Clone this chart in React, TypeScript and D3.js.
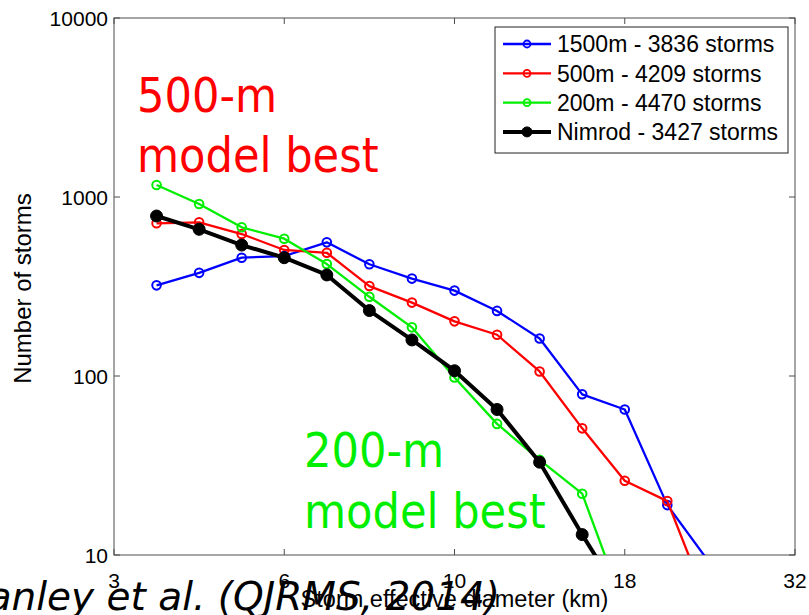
import React from "react";
import * as d3 from "d3";

// Diameter bins (index along the x axis) and storm counts per bin
const bins = [1, 2, 3, 4, 5, 6, 7, 8, 9, 10, 11, 12, 13, 14];
const counts1500 = [321, 377, 458, 468, 558, 421, 350, 300, 231, 162, 79, 65, 19, 9];
const counts500 = [713, 722, 621, 506, 488, 318, 257, 202, 170, 106, 51, 26, 20, 5];
const counts200 = [1167, 914, 677, 585, 422, 277, 187, 98, 54, 34, 22, 5];
const countsNimrod = [783, 660, 539, 458, 367, 232, 159, 107, 65, 33, 13, 5.4];

const xTickBins = [0, 4, 8, 12, 16];
const xTickLabels = ["3", "6", "10", "18", "32"];
const yTicks = [10, 100, 1000, 10000];

const seriesNames = [
  "1500m - 3836 storms",
  "500m - 4209 storms",
  "200m - 4470 storms",
  "Nimrod - 3427 storms",
];
const seriesColors = ["#0000ff", "#ff0000", "#00ee00", "#000000"];
const seriesCounts = [counts1500, counts500, counts200, countsNimrod];

const W = 809;
const H = 615;
const M = { left: 114, right: 795, top: 18, bottom: 555 };

export default function App() {
  const x = d3.scaleLinear().domain([0, 16]).range([M.left, M.right]);
  const y = d3.scaleLog().domain([10, 10000]).range([M.bottom, M.top]);

  const line = d3
    .line<[number, number]>()
    .x((d) => x(d[0]))
    .y((d) => y(d[1]));

  const axisFont = "'Liberation Sans', Arial, Helvetica, sans-serif";
  const annoFont = "'DejaVu Sans', Verdana, sans-serif";
  const tickLen = 6;

  return (
    <svg
      width={W}
      height={H}
      style={{ position: "absolute", left: 0, top: 0, background: "#fff" }}
    >
      <defs>
        <clipPath id="plotClip">
          <rect x={M.left} y={M.top} width={M.right - M.left} height={M.bottom - M.top} />
        </clipPath>
      </defs>

      {/* axes frame and ticks */}
      <rect
        x={M.left}
        y={M.top}
        width={M.right - M.left}
        height={M.bottom - M.top}
        fill="none"
        stroke="#4d4d4d"
        strokeWidth={1}
      />
      {xTickBins.map((b, i) => (
        <g key={"xt" + i}>
          <line x1={x(b)} x2={x(b)} y1={M.bottom} y2={M.bottom - tickLen} stroke="#4d4d4d" />
          <line x1={x(b)} x2={x(b)} y1={M.top} y2={M.top + tickLen} stroke="#4d4d4d" />
          <text
            x={x(b)}
            y={M.bottom + 33}
            textAnchor="middle"
            fontFamily={axisFont}
            fontSize={21}
            fill="#000"
          >
            {xTickLabels[i]}
          </text>
        </g>
      ))}
      {yTicks.map((t) => (
        <g key={"yt" + t}>
          <line x1={M.left} x2={M.left + tickLen} y1={y(t)} y2={y(t)} stroke="#4d4d4d" />
          <line x1={M.right} x2={M.right - tickLen} y1={y(t)} y2={y(t)} stroke="#4d4d4d" />
          <text
            x={M.left - 6}
            y={y(t)}
            dy="0.36em"
            textAnchor="end"
            fontFamily={axisFont}
            fontSize={21}
            fill="#000"
          >
            {t}
          </text>
        </g>
      ))}

      {/* axis titles */}
      <text
        transform={`translate(31, ${(M.top + M.bottom) / 2 + 2}) rotate(-90)`}
        textAnchor="middle"
        fontFamily={axisFont}
        fontSize={24}
        fill="#000"
      >
        Number of storms
      </text>
      <text
        x={(M.left + M.right) / 2}
        y={607}
        textAnchor="middle"
        fontFamily={axisFont}
        fontSize={23.5}
        fill="#000"
      >
        Storm effective diameter (km)
      </text>

      {/* series */}
      <g clipPath="url(#plotClip)">
        {seriesCounts.map((vals, si) => {
          const pts: [number, number][] = vals.map((v, i) => [bins[i], v]);
          const isObs = si === 3;
          return (
            <g key={"s" + si}>
              <path
                d={line(pts) || ""}
                fill="none"
                stroke={seriesColors[si]}
                strokeWidth={isObs ? 4 : 2.3}
                strokeLinejoin="round"
              />
              {pts.map((p, i) => (
                <circle
                  key={i}
                  cx={x(p[0])}
                  cy={y(p[1])}
                  r={isObs ? 6 : 4.3}
                  fill={isObs ? "#000" : "none"}
                  stroke={seriesColors[si]}
                  strokeWidth={isObs ? 1 : 2}
                />
              ))}
            </g>
          );
        })}
      </g>

      {/* legend */}
      <rect x={495} y={27} width={293} height={126} fill="#fff" stroke="#222" strokeWidth={1} />
      {seriesNames.map((name, i) => {
        const ly = 44 + i * 29.3;
        const isObs = i === 3;
        return (
          <g key={"lg" + i}>
            <line
              x1={503}
              x2={551}
              y1={ly}
              y2={ly}
              stroke={seriesColors[i]}
              strokeWidth={isObs ? 4 : 2.3}
            />
            <circle
              cx={527}
              cy={ly}
              r={isObs ? 5 : 3.5}
              fill={isObs ? "#000" : "none"}
              stroke={seriesColors[i]}
              strokeWidth={isObs ? 1 : 1.8}
            />
            <text
              x={557}
              y={ly}
              dy="0.36em"
              fontFamily={axisFont}
              fontSize={23}
              fill="#000"
            >
              {name}
            </text>
          </g>
        );
      })}

      {/* annotations */}
      <g fontFamily={annoFont} fontSize={48} style={{ fontStretch: "condensed" }}>
        <text x={137} y={112} fill="#ff0000">500-m</text>
        <text x={137} y={172} fill="#ff0000">model best</text>
        <text x={304} y={467} fill="#00ee00">200-m</text>
        <text x={304} y={528} fill="#00ee00">model best</text>
      </g>
      <text
        x={500}
        y={610}
        textAnchor="end"
        fontFamily={annoFont}
        fontSize={39}
        fontStyle="italic"
        fill="#000"
      >
        Stanley et al. (QJRMS, 2014)
      </text>
    </svg>
  );
}
